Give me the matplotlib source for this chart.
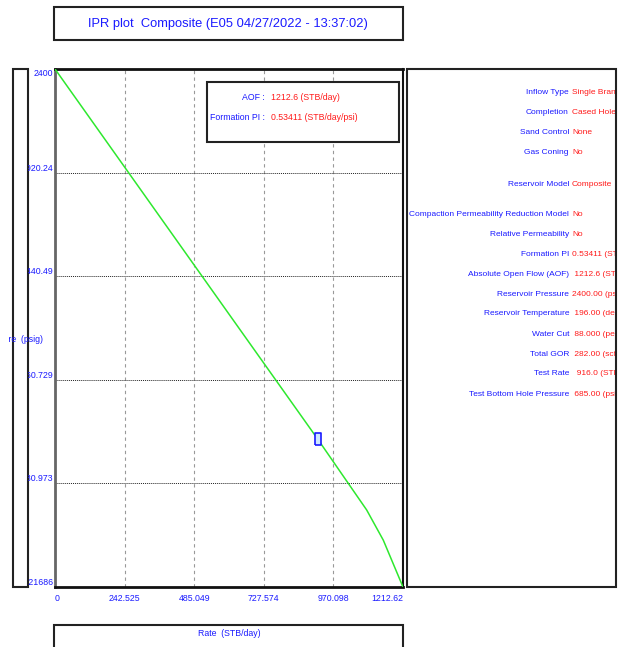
import matplotlib
matplotlib.use('Agg')
import matplotlib.pyplot as plt
from matplotlib.patches import Rectangle
from matplotlib.transforms import Bbox, TransformedBbox, blended_transform_factory

# IPR curve (composite model) and test point
rate = [0, 916.0, 1022, 1086, 1144, 1212.6]
pwf = [2400, 685.0, 481, 358, 218, 1.21686]
test_rate = [916.0]
test_pwf = [685.0]

x_ticks = [0, 242.525, 485.049, 727.574, 970.098, 1212.62]
y_ticks = [1.21686, 480.973, 960.729, 1440.49, 1920.24, 2400]

title = 'IPR plot  Composite (E05 04/27/2022 - 13:37:02)'
x_label = 'Rate  (STB/day)'
y_label = 'Pressure  (psig)'

box_labels = ['AOF :', 'Formation PI :']
box_values = ['1212.6 (STB/day)', '0.53411 (STB/day/psi)']

info_labels = ['Inflow Type', 'Completion', 'Sand Control', 'Gas Coning', 'Reservoir Model',
               'Compaction Permeability Reduction Model', 'Relative Permeability', 'Formation PI',
               'Absolute Open Flow (AOF)', 'Reservoir Pressure', 'Reservoir Temperature',
               'Water Cut', 'Total GOR', 'Test Rate', 'Test Bottom Hole Pressure']
info_values = ['Single Branch', 'Cased Hole', 'None', 'No', 'Composite', 'No', 'No',
               '0.53411 (STB/day/psi)', ' 1212.6 (STB/day)', '2400.00 (psig)', ' 196.00 (deg F)',
               ' 88.000 (percent)', ' 282.00 (scf/STB)', '  916.0 (STB/day)', ' 685.00 (psig)']
info_rows = [92, 112, 132, 153, 184, 214, 234, 254, 274, 294, 314, 334, 354, 374, 394]

W, H = 620, 647
BLUE = '#1a1aff'
RED = '#ff1a1a'
FS = 6.3
FS_PANEL = 6.05
plt.rcParams['font.family'] = ['Liberation Sans', 'DejaVu Sans']

fig = plt.figure(figsize=(W / 100, H / 100), dpi=100)


def fx(px):
    return px / W


def fy(py):
    return 1 - py / H


def box(x0, y0, x1, y1, lw=1.5, ec='#222222'):
    r = Rectangle((fx(x0), fy(y1)), fx(x1) - fx(x0), fy(y0) - fy(y1),
                  transform=fig.transFigure, fc='white', ec=ec, lw=lw, zorder=1)
    fig.add_artist(r)


def clip_px(x0, y0, x1, y1):
    return TransformedBbox(Bbox.from_extents(fx(x0), fy(y1), fx(x1), fy(y0)), fig.transFigure)


# title box
box(54, 7, 403, 40)
fig.text(fx(228), fy(24), title, color=BLUE, fontsize=9.3, ha='center', va='center')

# y label strip
box(13, 69, 28, 587)
t = fig.text(fx(43), fy(340), y_label, color=BLUE, fontsize=FS, ha='right', va='center', zorder=5)
t.set_clip_box(clip_px(9, 300, 55, 380))
t.set_clip_on(True)

# x label box
box(54, 625, 403, 660)
fig.text(fx(229), fy(634), x_label, color=BLUE, fontsize=FS, ha='center', va='center')

# main plot
ax = fig.add_axes([fx(55), fy(587), fx(403) - fx(55), fy(69) - fy(587)])
ax.plot(rate, pwf, color='#2ee82e', lw=1.1, zorder=3)
marker = [(-0.55, -1), (0.55, -1), (0.55, 1), (-0.55, 1), (-0.55, -1)]
ax.plot(test_rate, test_pwf, linestyle='none', marker=marker, markersize=8,
        mfc='#cfe8ff', mec='#1a1aff', mew=1.2, zorder=4)

ax.set_xlim(x_ticks[0], x_ticks[-1])
ax.set_ylim(y_ticks[0], y_ticks[-1])
ax.set_xticks([])
ax.set_yticks([])
for v in x_ticks[1:-1]:
    ax.axvline(v, color='#999999', lw=0.8, ls=(0, (3, 3)), zorder=1)
for v in y_ticks[1:-1]:
    ax.axhline(v, color='#222222', lw=0.7, ls=(0, (1, 1)), zorder=1)

for side in ['top', 'bottom']:
    ax.spines[side].set_linewidth(2)
    ax.spines[side].set_color('#111111')
ax.spines['left'].set_linewidth(2)
ax.spines['left'].set_color('#666666')
ax.spines['right'].set_linewidth(1.5)
ax.spines['right'].set_color('#111111')

# tick labels
xt = blended_transform_factory(ax.transData, fig.transFigure)
for i, v in enumerate(x_ticks):
    ha = 'left' if i == 0 else ('right' if i == len(x_ticks) - 1 else 'center')
    fig.text(v, fy(594), '%.6g' % v, transform=xt, color=BLUE, fontsize=FS, ha=ha, va='top')

yt = blended_transform_factory(fig.transFigure, ax.transData)
for i, v in enumerate(y_ticks):
    va = 'top' if i == len(y_ticks) - 1 else 'bottom'
    t = fig.text(fx(53), v, '%.6g' % v, transform=yt, color=BLUE, fontsize=FS, ha='right', va=va)
    t.set_clip_box(clip_px(28, 60, 55, 600))
    t.set_clip_on(True)

# AOF / PI box inside the plot
box(207, 82, 399, 142, lw=1.5)
for lab, val, py in zip(box_labels, box_values, [98, 118]):
    fig.text(fx(265), fy(py), lab, color=BLUE, fontsize=FS, ha='right', va='center', zorder=5)
    fig.text(fx(271), fy(py), val, color=RED, fontsize=FS, ha='left', va='center', zorder=5)

# input summary panel
box(407, 69, 616, 587)
for lab, val, py in zip(info_labels, info_values, info_rows):
    fig.text(fx(569), fy(py), lab, color=BLUE, fontsize=FS_PANEL, ha='right', va='center', zorder=5)
    t = fig.text(fx(572), fy(py), val, color=RED, fontsize=FS_PANEL, ha='left', va='center', zorder=5)
    t.set_clip_box(clip_px(407, 60, 615, 600))
    t.set_clip_on(True)

fig.savefig('out.png', dpi=100)
